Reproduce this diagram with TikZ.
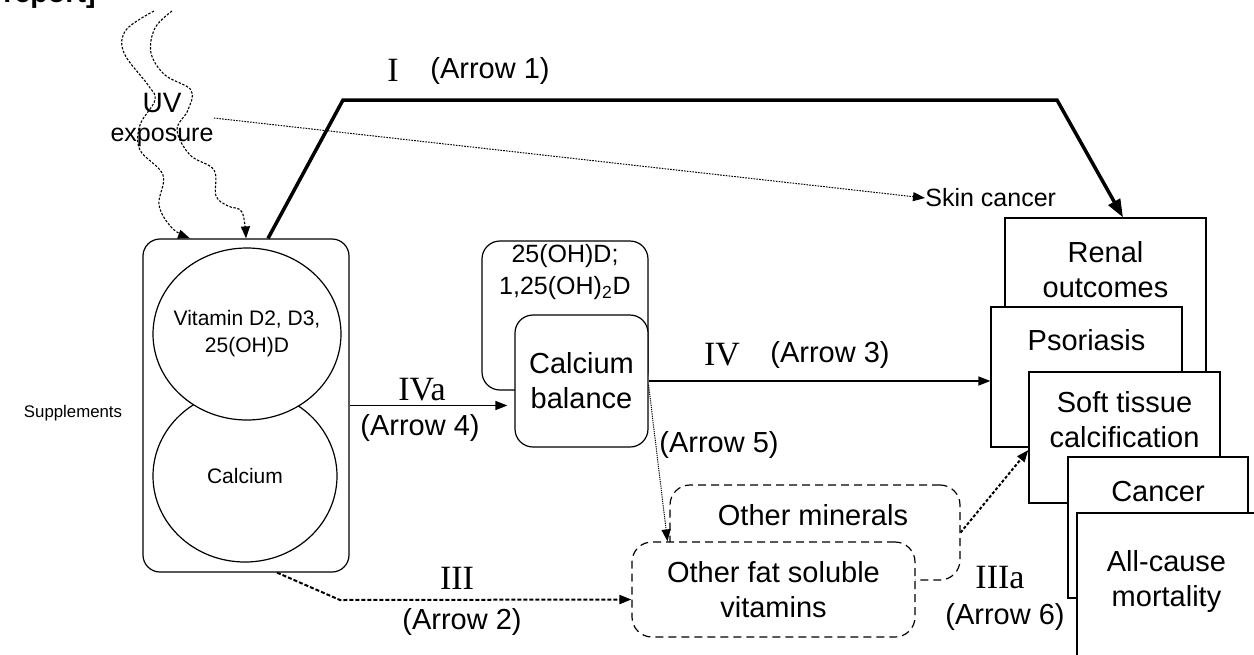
\documentclass[tikz,border=0pt]{standalone}
\usepackage{fontspec}
\setmainfont{Liberation Sans}
\newfontfamily\romfont{Liberation Serif}
\usetikzlibrary{arrows.meta,shapes.geometric}

\begin{document}
\begin{tikzpicture}[x=0.5pt,y=-0.5pt,
    >={Triangle[length=6pt,width=4.5pt]},
    txt/.style={font=\fontsize{14.5}{17.5}\selectfont,align=center,inner sep=0pt},
    small/.style={font=\fontsize{10.5}{13.5}\selectfont,align=center,inner sep=0pt},
    roman/.style={font=\romfont\fontsize{17}{20}\selectfont,inner sep=0pt},
    rbox/.style={draw,fill=white,line width=0.6pt,rounded corners=8.5pt,inner sep=0pt},
    dbox/.style={draw,fill=white,line width=0.6pt,rounded corners=10pt,dash pattern=on 4pt off 2.5pt,inner sep=0pt},
    obox/.style={draw,fill=white,line width=0.6pt,inner sep=0pt},
    circ/.style={draw,fill=white,ellipse,line width=0.6pt,inner sep=0pt},
    uvline/.style={->,line width=0.55pt,dash pattern=on 1.2pt off 0.8pt},
  ]
  \useasboundingbox (0,0) rectangle (1254,654);
  % Draw cut text at the top
  \node[anchor=base west,font=\bfseries\fontsize{14.3}{16}\selectfont,inner sep=0pt] (rep) at (3,2) {report]};
  % Draw supplements box and its circles
  \node[rbox,minimum width=103pt,minimum height=166.5pt] (supp) at (246,405.5) {};
  \node[circ,minimum width=92pt,minimum height=86pt] (calc) at (245,476) {};
  \node[small] (calctxt) at (245,476) {Calcium};
  \node[circ,minimum width=94pt,minimum height=86pt] (vitd) at (247,334) {};
  \node[small] (vitdtxt) at (247,333.5) {Vitamin D2, D3,\\25(OH)D};
  \node[font=\fontsize{8.4}{10}\selectfont,inner sep=0pt] (suppl) at (73,413) {Supplements};
  % Draw UV exposure
  \node[font=\fontsize{14}{16}\selectfont,inner sep=0pt] (uv) at (162,103) {UV};
  \node[font=\fontsize{12.5}{15}\selectfont,inner sep=0pt] (expo) at (162,137) {exposure};
  \coordinate (uvend) at ([xshift=-28pt]supp.north);
  \draw[uvline] plot[smooth,tension=0.6] coordinates {(154,11) (126,30) (124,53) (148,85) (155,100) (140,125) (140,150) (163,175) (159,205) (172,228) (uvend)};
  \draw[uvline] plot[smooth,tension=0.6] coordinates {(172,11) (155,28) (151,53) (165,75) (191,90) (188,110) (177,130) (190,155) (214,170) (216,196) (228,206) (242,212) (supp.north)};
  % Draw vitamin D metabolites and calcium balance
  \node[rbox,minimum width=83pt,minimum height=74.5pt,rounded corners=9pt] (ohd) at (565,315.5) {};
  \node[font=\fontsize{12.5}{16}\selectfont,align=center,inner sep=0pt] (ohdtxt) at (565,272) {25(OH)D;\\1,25(OH)\textsubscript{2}D};
  \node[rbox,txt,minimum width=66.5pt,minimum height=66pt,rounded corners=9pt] (cbal) at (581.5,381) {Calcium\\balance};
  % Draw other minerals and vitamins
  \node[dbox,minimum width=145pt,minimum height=47.5pt] (minr) at (815,532.5) {};
  \node[txt] (minrtxt) at (813,515) {Other minerals};
  \node[dbox,txt,minimum width=141.5pt,minimum height=47.5pt] (fat) at (773.5,589.5) {Other fat soluble\\vitamins};
  % Draw outcome boxes
  \node[obox,minimum width=100.5pt,minimum height=91pt] (renal) at (1105.5,309) {};
  \node[txt] (renaltxt) at (1105.5,270) {Renal\\outcomes};
  \node[obox,minimum width=95.5pt,minimum height=70pt] (psor) at (1086.5,377) {};
  \node[txt] (psortxt) at (1086.5,340) {Psoriasis};
  \node[obox,minimum width=95.5pt,minimum height=65.5pt] (soft) at (1124.5,437.5) {};
  \node[txt] (softtxt) at (1124.5,420) {Soft tissue\\calcification};
  \node[obox,minimum width=90pt,minimum height=70.5pt] (canc) at (1158,527.5) {};
  \node[txt] (canctxt) at (1158,492) {Cancer};
  \node[obox,minimum width=89.5pt,minimum height=83.5pt] (allc) at (1166.5,596.5) {};
  \node[txt] (allctxt) at (1166.5,581) {All-cause\\mortality};
  \node[font=\fontsize{12.5}{15}\selectfont,anchor=west,inner sep=0pt] (skin) at (925,198) {Skin cancer};
  % Draw arrow 1
  \coordinate (a1l) at (343,100);
  \coordinate (a1r) at (1057,100);
  \draw[->,line width=1.75pt,>={Triangle[length=9pt,width=6.5pt]}] ([xshift=11pt]supp.north) -- (a1l) -- (a1r) -- ([xshift=8.75pt]renal.north);
  \node[roman] (ilbl) at (393,70) {I};
  \node[txt] (a1lbl) at (490,71) {(Arrow 1)};
  % Draw skin cancer arrow
  \draw[->,line width=0.5pt,dash pattern=on 0.8pt off 0.6pt] ([yshift=9.5pt]expo.east) -- (skin.west);
  % Draw arrow 4
  \draw[->,line width=0.75pt] (supp.east) -- ([xshift=-3.5pt]supp.east -| cbal.west);
  \node[roman] (ivalbl) at (422,390) {IVa};
  \node[txt] (a4lbl) at (420,428) {(Arrow 4)};
  % Draw arrow 3
  \draw[->,line width=0.75pt] (cbal.east) -- (cbal.east -| psor.west);
  \node[roman] (ivlbl) at (722,355) {IV};
  \node[txt] (a3lbl) at (830,355) {(Arrow 3)};
  % Draw arrow 2
  \coordinate (a2b) at (340,600);
  \draw[->,line width=1pt,dash pattern=on 2pt off 1pt] ([xshift=15.5pt]supp.south) -- (a2b) -- ([yshift=-5pt]fat.west);
  \node[roman] (iiilbl) at (457,578) {III};
  \node[txt] (a2lbl) at (462,622) {(Arrow 2)};
  % Draw arrow 5
  \draw[->,line width=0.5pt,dash pattern=on 0.6pt off 0.5pt] ([yshift=-2pt]cbal.east) -- ([xshift=-53pt]fat.north);
  \node[txt] (a5lbl) at (719,445) {(Arrow 5)};
  % Draw arrow 6
  \draw[->,line width=1pt,dash pattern=on 1.5pt off 1pt] (minr.east) -- ([yshift=-6.25pt]soft.west);
  \node[roman] (iiialbl) at (1000,578) {IIIa};
  \node[txt] (a6lbl) at (1005,617) {(Arrow 6)};
\end{tikzpicture}
\end{document}
